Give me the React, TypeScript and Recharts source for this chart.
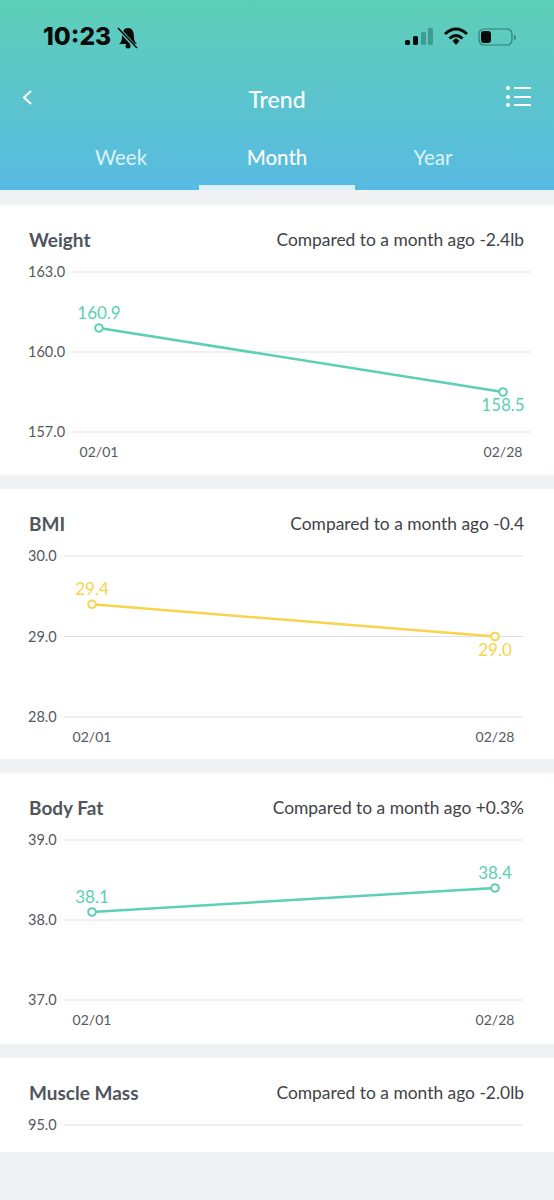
import { LineChart, Line, XAxis, YAxis, CartesianGrid, LabelList } from 'recharts'

const dates = ['02/01', '02/28']
const weightValues = [160.9, 158.5]
const bmiValues = [29.4, 29.0]
const bodyFatValues = [38.1, 38.4]
const weightTicks = [157, 160, 163]
const bmiTicks = [28, 29, 30]
const bodyFatTicks = [37, 38, 39]
const muscleTicks = [95]
const tabs = ['Week', 'Month', 'Year']

const TEAL = '#5ccfb5'
const YELLOW = '#f8d34c'
const GRID = '#dfe1e5'
const FONT = 'Lato, sans-serif'

interface ChartProps {
  title: string
  note: string
  values: number[]
  ticks: number[]
  color: string
  top: number
  height: number
  plotLeft: number
  plotRight: number
  plotBottom: number
}

function YTick({ x, y, payload, plotLeft }: any): React.JSX.Element {
  return (
    <text x={x - plotLeft + 28 + 8} y={y + 5} textAnchor="start" fontSize={14.5} fontFamily={FONT} fill="#55585e">
      {payload.value.toFixed(1)}
    </text>
  )
}

function PointLabel({ x, y, value, index, values, color }: any): React.JSX.Element {
  const below = index === values.length - 1 && values[index] < values[0]
  return (
    <text x={x} y={below ? y + 19 : y - 9} textAnchor="middle" fontSize={17} fontFamily={FONT} fill={color}>
      {value.toFixed(1)}
    </text>
  )
}

function CardTitle({ title, note }: { title: string; note: string }): React.JSX.Element {
  return (
    <>
      <div style={{ position: 'absolute', left: 29, top: 23, fontFamily: FONT, fontWeight: 700, fontSize: 19, color: '#50555d' }}>{title}</div>
      <div style={{ position: 'absolute', right: 30, top: 24, fontFamily: FONT, fontSize: 17.4, color: '#3f4247' }}>{note}</div>
    </>
  )
}

function TrendCard({ title, note, values, ticks, color, top, height, plotLeft, plotRight, plotBottom }: ChartProps): React.JSX.Element {
  const data = dates.map((date, i) => ({ date, value: values[i] }))
  return (
    <div style={{ position: 'absolute', left: 0, top, width: 554, height, background: '#fff', overflow: 'hidden' }}>
      <CardTitle title={title} note={note} />
      <LineChart
        width={554}
        height={height}
        data={data}
        margin={{ top: 67, right: 554 - plotRight, bottom: 0, left: 0 }}
        style={{ position: 'absolute', left: 0, top: 0 }}
      >
        <CartesianGrid vertical={false} stroke={GRID} strokeWidth={1.2} />
        <XAxis
          dataKey="date"
          height={height - plotBottom}
          padding={{ left: 28, right: 28 }}
          axisLine={false}
          tickLine={false}
          tickMargin={9}
          tick={{ fontSize: 14, fontFamily: FONT, fill: '#55585e' }}
          interval={0}
        />
        <YAxis
          width={plotLeft}
          domain={[ticks[0], ticks[ticks.length - 1]]}
          ticks={ticks}
          axisLine={false}
          tickLine={false}
          tick={(p: any) => <YTick {...p} plotLeft={plotLeft} />}
        />
        <Line
          dataKey="value"
          type="linear"
          stroke={color}
          strokeWidth={2.5}
          dot={{ r: 3.8, fill: '#fff', stroke: color, strokeWidth: 2 }}
          isAnimationActive={false}
        >
          <LabelList dataKey="value" content={(p: any) => <PointLabel {...p} values={values} color={color} />} />
        </Line>
      </LineChart>
    </div>
  )
}

// the rest of this chart is scrolled out of view, only the top gridline shows
function MuscleCard(): React.JSX.Element {
  return (
    <div style={{ position: 'absolute', left: 0, top: 1058, width: 554, height: 94, background: '#fff', overflow: 'hidden' }}>
      <CardTitle title="Muscle Mass" note="Compared to a month ago -2.0lb" />
      <LineChart
        width={554}
        height={270}
        data={dates.map((date) => ({ date }))}
        margin={{ top: 67, right: 31, bottom: 0, left: 0 }}
        style={{ position: 'absolute', left: 0, top: 0 }}
      >
        <CartesianGrid vertical={false} stroke={GRID} strokeWidth={1.2} />
        <XAxis dataKey="date" hide />
        <YAxis
          width={64}
          domain={[93, 95]}
          allowDataOverflow
          ticks={muscleTicks}
          interval={0}
          axisLine={false}
          tickLine={false}
          tick={(p: any) => <YTick {...p} plotLeft={64} />}
        />
        <Line dataKey="value" stroke={TEAL} dot={false} isAnimationActive={false} />
      </LineChart>
    </div>
  )
}

function Header(): React.JSX.Element {
  return (
    <div style={{ position: 'absolute', left: 0, top: 0, width: 554, height: 190, background: 'linear-gradient(#5ecfb7, #58bae2)' }}>
      <div style={{ position: 'absolute', left: 43, top: 21, fontFamily: 'Inter, sans-serif', fontWeight: 800, fontSize: 24.5, color: '#0a0a0a' }}>10:23</div>
      <svg width={554} height={190} style={{ position: 'absolute', left: 0, top: 0 }}>
        {/* muted bell */}
        <path d="M119 44 q3 -2 3 -7 q0 -9 6 -9 q6 0 6 9 q0 5 3 7 z" fill="#0a0a0a" />
        <circle cx="128" cy="46" r="2.5" fill="#0a0a0a" />
        <line x1="119" y1="29" x2="137" y2="49" stroke="#5ecdbb" strokeWidth={3.5} />
        <line x1="118" y1="28" x2="137" y2="48" stroke="#0a0a0a" strokeWidth={1.6} />
        {/* signal */}
        <rect x="405" y="40" width="5" height="5" rx="1.5" fill="#0a0a0a" />
        <rect x="413" y="36" width="5" height="9" rx="1.5" fill="#0a0a0a" />
        <rect x="421" y="32" width="5" height="13" rx="1.5" fill="#3f9c94" />
        <rect x="428" y="28" width="5" height="17" rx="1.5" fill="#3f9c94" />
        {/* wifi */}
        <path d="M445 34 q11 -10 22 0" fill="none" stroke="#0a0a0a" strokeWidth={3} />
        <path d="M449.5 38.5 q6.5 -6 13 0" fill="none" stroke="#0a0a0a" strokeWidth={3} />
        <path d="M452.5 41 l3.5 -3 l3.5 3 l-3.5 4 z" fill="#0a0a0a" />
        {/* battery */}
        <rect x="479" y="29" width="33" height="16" rx="5" fill="none" stroke="#2f7f7c" strokeWidth={1.2} />
        <rect x="481" y="31" width="10" height="12" rx="3" fill="#0a0a0a" />
        <rect x="514" y="35" width="1.5" height="5" rx="0.7" fill="#2f7f7c" />
        {/* back chevron */}
        <path d="M31 91 l-7 6.5 l7 6.5" fill="none" stroke="#fff" strokeWidth={2} />
        {/* list icon */}
        <circle cx="508" cy="88" r="2" fill="#fff" />
        <circle cx="508" cy="97" r="2" fill="#fff" />
        <circle cx="508" cy="105" r="2" fill="#fff" />
        <line x1="514" y1="88" x2="531" y2="88" stroke="#fff" strokeWidth={2} />
        <line x1="514" y1="97" x2="531" y2="97" stroke="#fff" strokeWidth={2} />
        <line x1="514" y1="105" x2="531" y2="105" stroke="#fff" strokeWidth={2} />
      </svg>
      <div style={{ position: 'absolute', left: 0, width: 554, top: 85, textAlign: 'center', fontFamily: FONT, fontWeight: 500, fontSize: 23, color: '#fff' }}>Trend</div>
      {tabs.map((tab, i) => (
        <div
          key={tab}
          style={{
            position: 'absolute',
            left: 43 + i * 156,
            width: 156,
            top: 145,
            textAlign: 'center',
            fontFamily: FONT,
            fontWeight: i === 1 ? 500 : 400,
            fontSize: 20.5,
            color: i === 1 ? '#fff' : '#def3f7'
          }}
        >
          {tab}
        </div>
      ))}
      <div style={{ position: 'absolute', left: 199, top: 185, width: 156, height: 5, background: '#dcf1f7' }} />
    </div>
  )
}

export default function App(): React.JSX.Element {
  return (
    <div style={{ position: 'absolute', left: 0, top: 0, width: 554, height: 1200, background: '#f0f1f3', overflow: 'hidden' }}>
      <Header />
      <TrendCard title="Weight" note="Compared to a month ago -2.4lb" values={weightValues} ticks={weightTicks} color={TEAL} top={205} height={270} plotLeft={71} plotRight={531} plotBottom={227} />
      <TrendCard title="BMI" note="Compared to a month ago -0.4" values={bmiValues} ticks={bmiTicks} color={YELLOW} top={489} height={270} plotLeft={64} plotRight={523} plotBottom={228} />
      <TrendCard title="Body Fat" note="Compared to a month ago +0.3%" values={bodyFatValues} ticks={bodyFatTicks} color={TEAL} top={773} height={271} plotLeft={64} plotRight={523} plotBottom={227} />
      <MuscleCard />
    </div>
  )
}
